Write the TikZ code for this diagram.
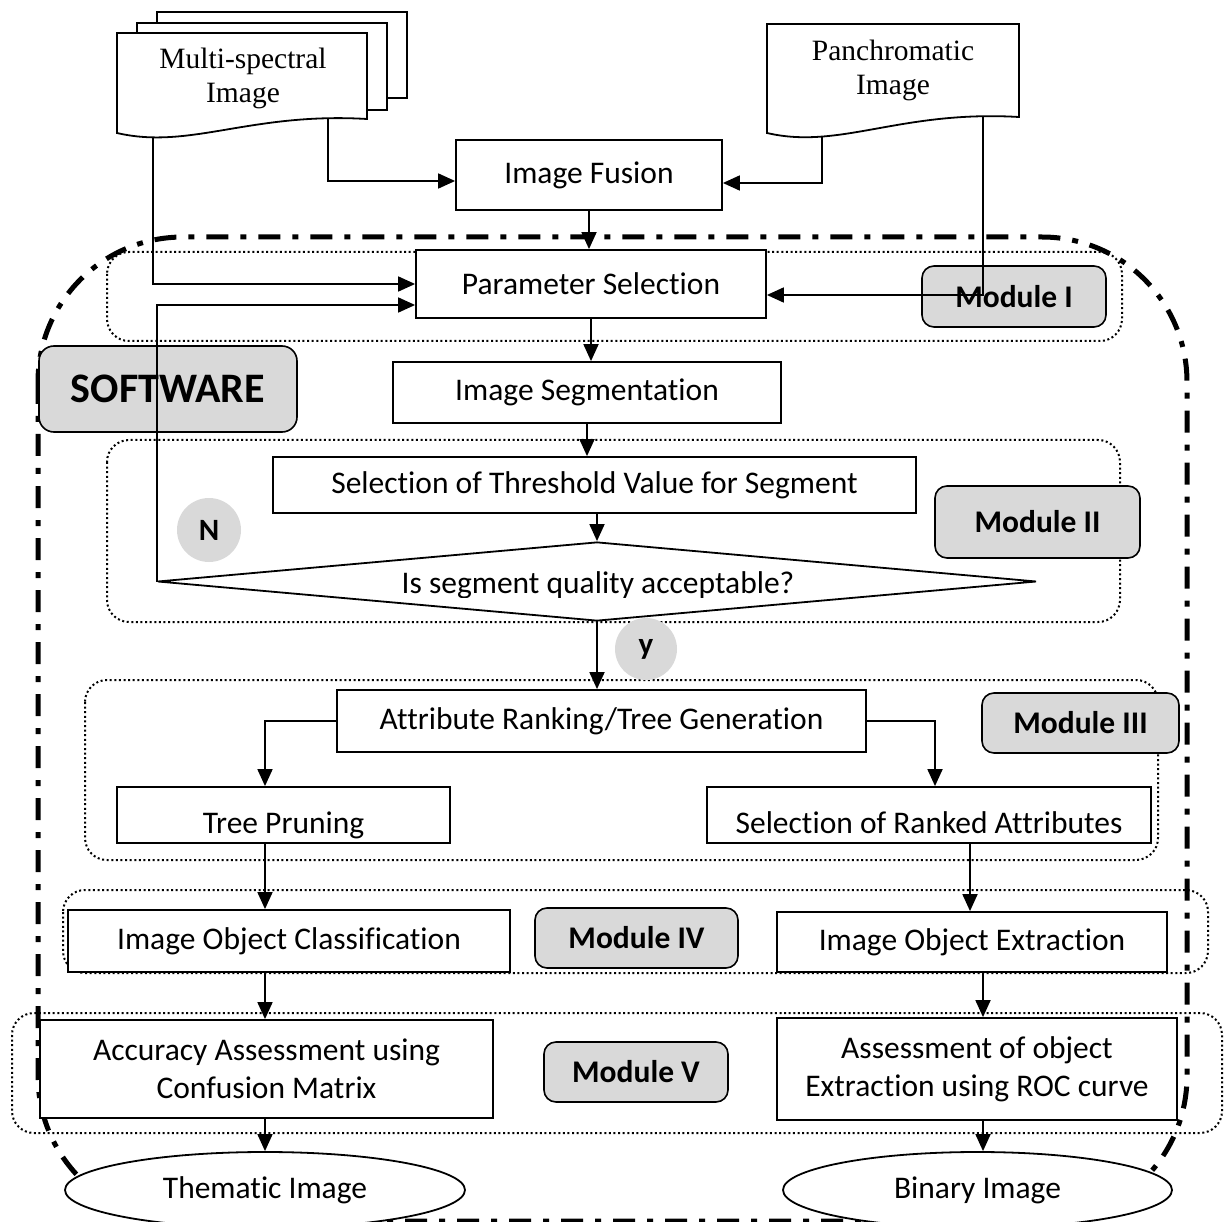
\documentclass[tikz,border=0pt]{standalone}
\usepackage{fontspec}
\setmainfont{Carlito}[Ligatures=NoCommon]
\newfontfamily\serifdoc{Liberation Serif}
\usetikzlibrary{arrows.meta,shapes.geometric}
\definecolor{modgray}{RGB}{217,217,217}
\begin{document}
\begin{tikzpicture}[x=1pt,y=-1pt,
  box/.style={draw,line width=1.8pt,fill=white,inner sep=0pt,align=center,
    font=\fontsize{31.5}{38}\selectfont},
  modbox/.style={draw,line width=1.6pt,fill=modgray,rounded corners=12pt,inner sep=0pt,
    font=\fontsize{31.5}{38}\selectfont\bfseries},
  group/.style={draw,line width=2pt,dash pattern=on 2pt off 2.6pt,rounded corners=22pt},
  frame/.style={draw,line width=5pt,dash pattern=on 22pt off 12pt on 6pt off 12pt,rounded corners=145pt},
  doc/.style={draw,line width=1.8pt,fill=white},
  doctext/.style={align=center,font=\serifdoc\fontsize{29.5}{34}\selectfont},
  arr/.style={line width=1.8pt,-{Triangle[length=17pt,width=15pt]}},
  badge/.style={circle,fill=modgray,inner sep=0pt,font=\fontsize{31}{32}\selectfont\bfseries},
  outcome/.style={ellipse,draw,line width=1.8pt,fill=white,inner sep=0pt,
    font=\fontsize{31.5}{38}\selectfont},
  label/.style={font=\fontsize{31.5}{38}\selectfont}
]
\useasboundingbox (0,0) rectangle (1224,1222);

% software boundary
\draw[frame] (38,237) rectangle (1187,1221);

% module groups
\draw[group] (107,252) rectangle (1122,341);
\draw[group] (107,440) rectangle (1120,622);
\draw[group] (85,680) rectangle (1158,860);
\draw[group] (63,890) rectangle (1208,973);
\draw[group] (12,1013) rectangle (1222,1133);

% input documents
\draw[doc] (157,12) rectangle (407,98);
\draw[doc] (137,23) rectangle (387,110);
\draw[doc] (117,33) -- (367,33) -- (367,119) .. controls (250,112) and (190,150) .. (117,133) -- cycle;
\node[doctext] (mstext) at (243,78) {Multi-spectral\\Image};
\coordinate (msL) at (153,138);
\coordinate (msR) at (328,118);

\draw[doc] (767,24) -- (1019,24) -- (1019,117) .. controls (900,110) and (840,150) .. (767,133) -- cycle;
\node[doctext] (pantext) at (893,70) {Panchromatic\\Image};
\coordinate (panL) at (822,137);
\coordinate (panR) at (983,116);

% process boxes
\node[box,minimum width=266pt,minimum height=70pt] (fusion) at (589,175) {Image Fusion};
\node[box,minimum width=350pt,minimum height=68pt] (param) at (591,284) {Parameter Selection};
\node[box,minimum width=388pt,minimum height=61pt] (seg) at (587,392.5) {Image Segmentation};
\node[box,minimum width=643pt,minimum height=56pt] (thresh) at (594.5,485) {Selection of Threshold Value for Segment};
\node[diamond,draw,line width=1.8pt,fill=white,inner sep=0pt,
  minimum width=879pt,minimum height=79pt] (dia) at (597,581.5) {};
\node[box,minimum width=529pt,minimum height=62pt] (attr) at (601.5,721) {Attribute Ranking/Tree Generation};
\node[box,minimum width=333pt,minimum height=56pt] (prune) at (283.5,815) {};
\node[box,minimum width=444pt,minimum height=56pt] (ranked) at (929,815) {};
\node[box,minimum width=442pt,minimum height=62pt] (classif) at (289,941) {Image Object Classification};
\node[box,minimum width=390pt,minimum height=60pt] (extract) at (972,942) {Image Object Extraction};
\node[box,minimum width=453pt,minimum height=98pt] (accuracy) at (266.5,1069) {Accuracy Assessment using\\Confusion Matrix};
\node[box,minimum width=400pt,minimum height=102pt] (roc) at (977,1069) {Assessment of object\\Extraction using ROC curve};

% module labels
\node[modbox,minimum width=184pt,minimum height=61pt] (m1) at (1014,296.5) {Module I};
\node[modbox,minimum width=205pt,minimum height=72pt] (m2) at (1037.5,522) {Module II};
\node[modbox,minimum width=197pt,minimum height=60pt] (m3) at (1080.5,723) {Module III};
\node[modbox,minimum width=203pt,minimum height=60pt] (m4) at (636.5,938) {Module IV};
\node[modbox,minimum width=184pt,minimum height=60pt] (m5) at (636,1072) {Module V};
\node[modbox,minimum width=258pt,minimum height=86pt,rounded corners=15pt,
  font=\fontsize{42}{44}\selectfont\bfseries] (sw) at (168,389) {SOFTWARE};

% outputs
\node[outcome,minimum width=400pt,minimum height=76pt] (them) at (265,1190) {Thematic Image};
\node[outcome,minimum width=389pt,minimum height=76pt] (bin) at (977.5,1190) {Binary Image};

% decision badges
\node[badge,minimum size=64pt] (nb) at (209,530) {N};
\node[badge,minimum size=62pt] (yb) at (646,649) {y};

% connector columns
\coordinate (colL) at (265,0);
\coordinate (colD) at (935,0);
\coordinate (colB) at (970,0);
\coordinate (colC) at (983,0);

% connectors
\draw[arr] (msR) |- ([yshift=-6pt]fusion.west);
\draw[arr] (panL) |- ([yshift=-8pt]fusion.east);
\draw[arr] (msL) |- (param.west);
\draw[arr] (panR) |- ([yshift=-11pt]param.east);
\draw[arr] (dia.west) |- ([yshift=-21pt]param.west);
\draw[arr] (fusion.south) -- (fusion.south |- param.north);
\draw[arr] (param.south) -- (param.south |- seg.north);
\draw[arr] (seg.south) -- (seg.south |- thresh.north);
\draw[arr] (dia.north |- thresh.south) -- (dia.north);
\draw[arr] (dia.south) -- (dia.south |- attr.north);
\draw[arr] (attr.west) -| (colL |- prune.north);
\draw[arr] (attr.east) -| (colD |- ranked.north);
\draw[arr] (colL |- prune.south) -- (colL |- classif.north);
\draw[arr] (colB |- ranked.south) -- (colB |- extract.north);
\draw[arr] (colL |- classif.south) -- (colL |- accuracy.north);
\draw[arr] (colC |- extract.south) -- (colC |- roc.north);
\draw[arr] (colL |- accuracy.south) -- (colL |- them.north);
\draw[arr] (colC |- roc.south) -- (colC |- bin.north);

% texts that sit on the lower edge of their outlines
\begin{scope}
  \clip (160,560) rectangle (1030,597);
  \node[label,anchor=base] (qtext) at (598,593) {Is segment quality acceptable?};
\end{scope}
\begin{scope}
  \clip (118,788) rectangle (449,842);
  \node[label,anchor=base] (prunetext) at (283.5,833) {Tree Pruning};
\end{scope}
\node[label,anchor=base] (rankedtext) at (929,833) {Selection of Ranked Attributes};
\end{tikzpicture}
\end{document}
